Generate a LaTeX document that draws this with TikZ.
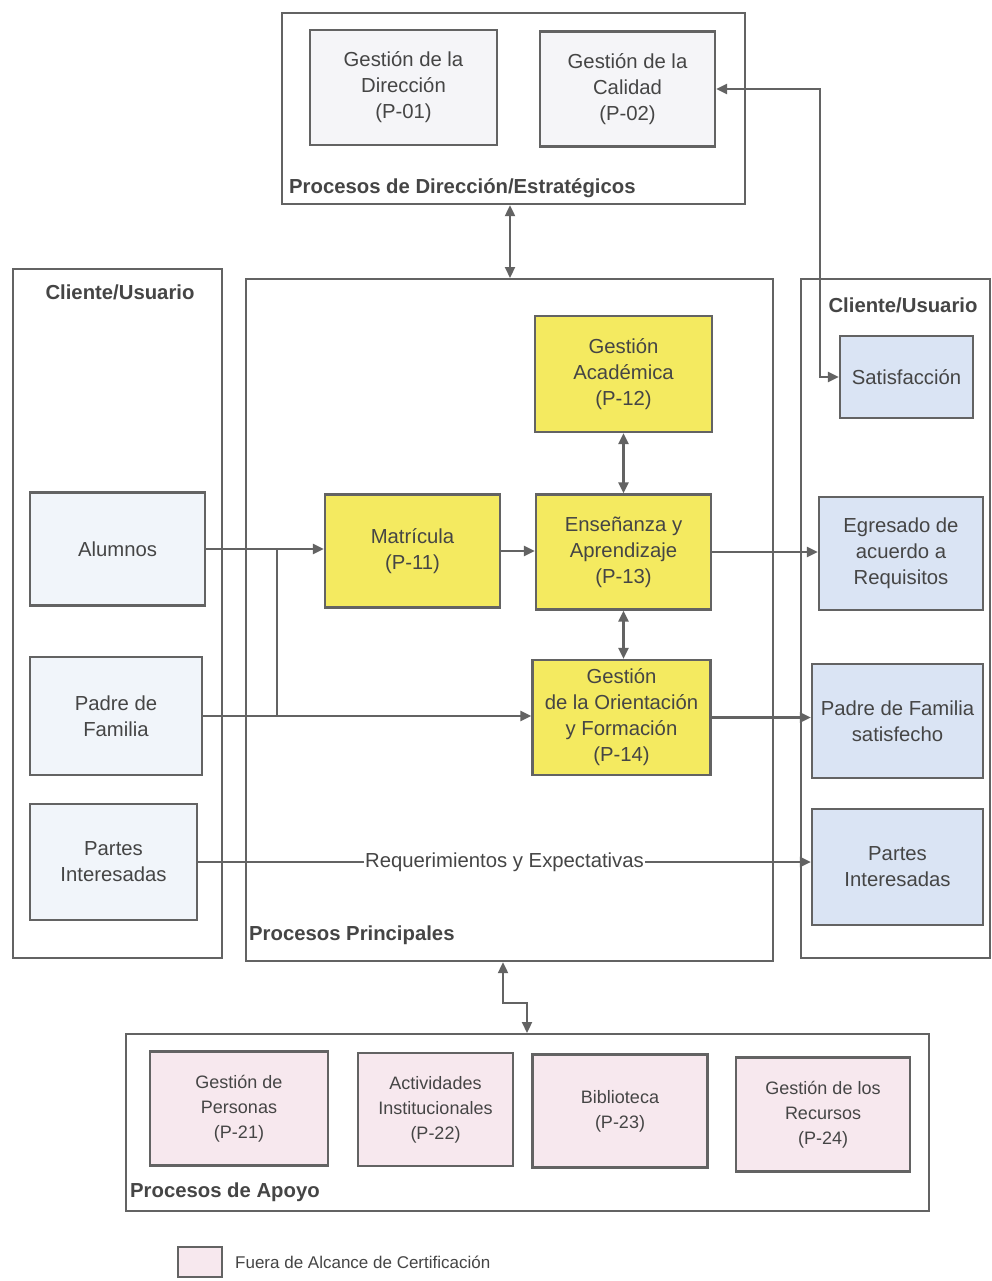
\documentclass[tikz,border=0pt]{standalone}
\usepackage{fontspec}
\setmainfont{Liberation Sans}
\usetikzlibrary{arrows.meta}
\definecolor{ln}{HTML}{636363}
\definecolor{tx}{HTML}{454545}
\definecolor{yel}{HTML}{F4EA60}
\definecolor{blu}{HTML}{DAE4F4}
\definecolor{lblu}{HTML}{F1F5FA}
\definecolor{gry}{HTML}{F5F5F8}
\definecolor{pnk}{HTML}{F7E8EE}
\begin{document}
\begin{tikzpicture}[x=1pt,y=-1pt,
  grp/.style={draw=ln, line width=2.2pt, anchor=north west, inner sep=0pt},
  box/.style={draw=ln, line width=2.2pt, align=center, text=tx, inner sep=0pt,
    font=\fontsize{20.3}{26}\selectfont},
  sbox/.style={box, font=\fontsize{18}{25}\selectfont},
  lbl/.style={font=\bfseries\fontsize{20.3}{22}\selectfont, text=tx, inner sep=0pt},
  con/.style={draw=ln, line width=2.2pt},
  arr/.style={con, -{Triangle[length=11pt,width=10pt]}},
  darr/.style={con, {Triangle[length=11pt,width=10pt]}-{Triangle[length=11pt,width=10pt]}}
]
\useasboundingbox[fill=white] (0,0) rectangle (992,1281);

% group boxes
\node[grp, minimum width=463, minimum height=191] (dir) at (281,12) {};
\node[grp, minimum width=209, minimum height=689] (cli) at (12,268) {};
\node[grp, minimum width=527, minimum height=682] (main) at (245,278) {};
\node[grp, minimum width=189, minimum height=679] (clr) at (800,278) {};
\node[grp, minimum width=803, minimum height=177] (apo) at (125,1033) {};

% group labels
\node[lbl, anchor=west] (ldir) at (289,188) {Procesos de Dirección/Estratégicos};
\node[lbl] (lcli) at (120,292) {Cliente/Usuario};
\node[lbl] (lclr) at (903,305) {Cliente/Usuario};
\node[lbl, anchor=west] (lmain) at (249,935) {Procesos Principales};
\node[lbl, anchor=west] (lapo) at (130,1192) {Procesos de Apoyo};

% direction processes
\node[box, fill=gry, minimum width=187, minimum height=115] (p01) at (403.5,87.5) {Gestión de la\\Dirección\\(P-01)};
\node[box, fill=gry, minimum width=175, minimum height=115] (p02) at (627.5,89) {Gestión de la\\Calidad\\(P-02)};

% left client boxes
\node[box, fill=lblu, minimum width=175, minimum height=113] (alu) at (117.5,549) {Alumnos};
\node[box, fill=lblu, minimum width=172, minimum height=118] (pad) at (116,716) {Padre de\\Familia};
\node[box, fill=lblu, minimum width=167, minimum height=116] (par) at (113.5,862) {Partes\\Interesadas};

% main processes
\node[box, fill=yel, minimum width=177, minimum height=116] (aca) at (623.5,374) {Gestión\\Académica\\(P-12)};
\node[box, fill=yel, minimum width=175, minimum height=113] (mat) at (412.5,551) {Matrícula\\(P-11)};
\node[box, fill=yel, minimum width=175, minimum height=115] (ens) at (623.5,552) {Enseñanza y\\Aprendizaje\\(P-13)};
\node[box, fill=yel, minimum width=178, minimum height=115] (ori) at (621.5,717.5) {Gestión\\de la Orientación\\y Formación\\(P-14)};

% right client boxes
\node[box, fill=blu, minimum width=133, minimum height=82] (sat) at (906.5,377) {Satisfacción};
\node[box, fill=blu, minimum width=164, minimum height=113] (egr) at (901,553.5) {Egresado de\\acuerdo a\\Requisitos};
\node[box, fill=blu, minimum width=171, minimum height=114] (pds) at (897.5,721) {Padre de Familia\\satisfecho};
\node[box, fill=blu, minimum width=171, minimum height=116] (prt) at (897.5,867) {Partes\\Interesadas};

% support processes
\node[sbox, fill=pnk, minimum width=178, minimum height=114] (p21) at (239,1108.5) {Gestión de\\Personas\\(P-21)};
\node[sbox, fill=pnk, minimum width=155, minimum height=113] (p22) at (435.5,1109.5) {Actividades\\Institucionales\\(P-22)};
\node[sbox, fill=pnk, minimum width=175, minimum height=113] (p23) at (620,1111) {Biblioteca\\(P-23)};
\node[sbox, fill=pnk, minimum width=174, minimum height=114] (p24) at (823,1114.5) {Gestión de los\\Recursos\\(P-24)};

% legend
\node[draw=ln, line width=1.8pt, fill=pnk, minimum width=44, minimum height=30, inner sep=0pt] (leg) at (200,1262) {};
\node[anchor=west, text=tx, font=\fontsize{17}{20}\selectfont, inner sep=0pt] (legt) at (235,1262) {Fuera de Alcance de Certificación};

% helper coordinates
\coordinate (cx) at (510,0);
\coordinate (k1) at (820,0);
\coordinate (br) at (277,0);
\coordinate (j1) at (503,1003);
\coordinate (j2) at (527,1003);

% connectors
\draw[darr] (dir.south -| cx) -- (main.north -| cx);
\draw[darr] (p02.east) -| (k1 |- sat.west) -- (sat.west);
\draw[arr] (alu.east) -- (alu.east -| mat.west);
\draw[con] (br |- alu.east) -- (br |- pad.east);
\draw[arr] (pad.east) -- (pad.east -| ori.west);
\draw[arr] (mat.east) -- (mat.east -| ens.west);
\draw[darr] (ens.north) -- (ens.north |- aca.south);
\draw[darr] (ens.south) -- (ens.south |- ori.north);
\draw[arr] (ens.east) -- (ens.east -| egr.west);
\draw[arr] (ori.east) -- (ori.east -| pds.west);
\draw[arr] (par.east) -- node[fill=white, text=tx, inner sep=1pt, font=\fontsize{20.3}{22}\selectfont] (req) {Requerimientos y Expectativas} (par.east -| prt.west);
\draw[darr] (main.south -| j1) -- (j1) -- (j2) -- (apo.north -| j2);
\end{tikzpicture}
\end{document}
